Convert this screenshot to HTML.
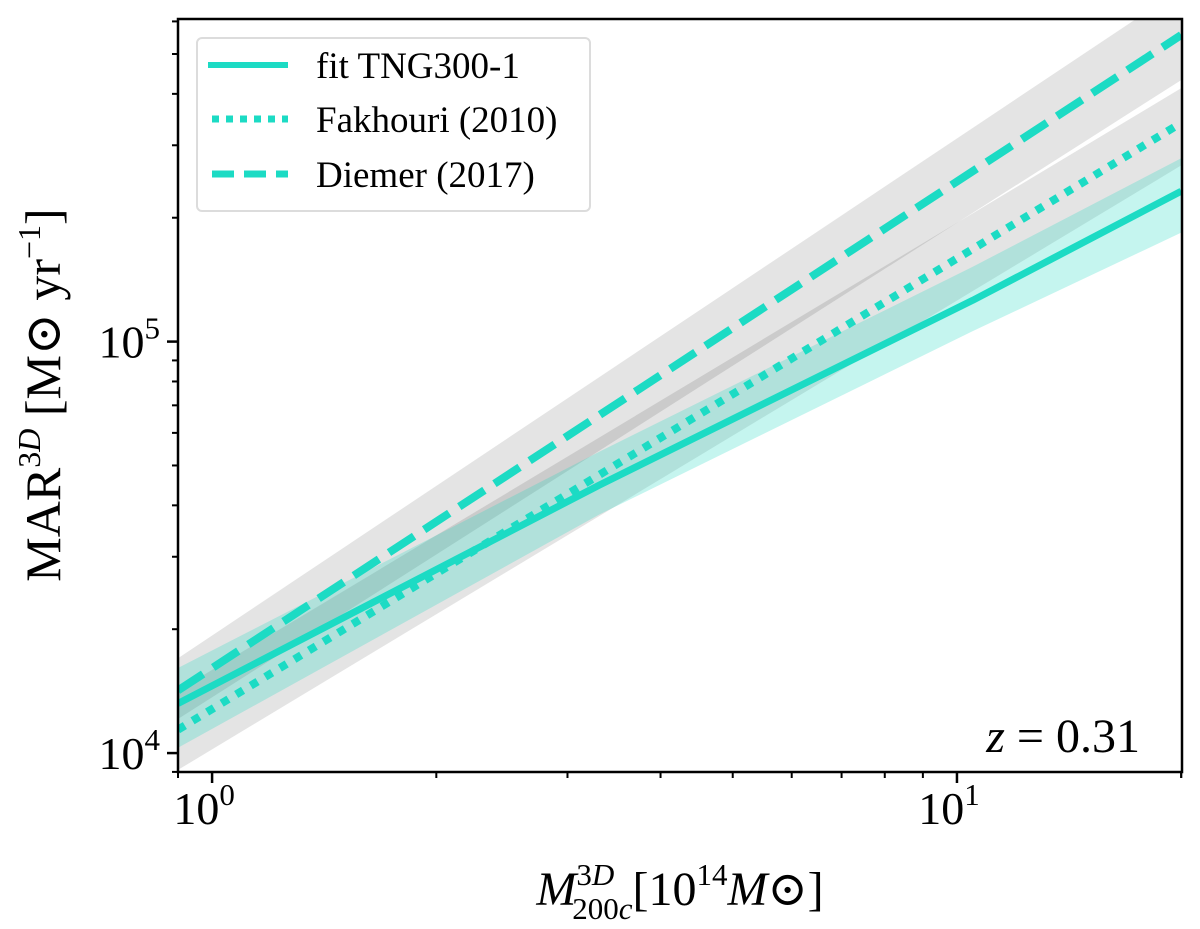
<!DOCTYPE html>
<html><head><meta charset="utf-8"><style>
html,body{margin:0;padding:0;background:#fff;}
svg text{font-family:"Liberation Serif","DejaVu Serif",serif;fill:#000;}
</style></head><body>
<svg id="chart" width="1200" height="924" xmlns="http://www.w3.org/2000/svg">
<g id="bands"></g>
<g id="lines"></g>
<g id="axes"></g>
<text x="1140" y="752" font-size="48" text-anchor="end"><tspan font-style="italic">z</tspan> = 0.31</text>
<text x="680" y="905" font-size="48" text-anchor="middle"><tspan font-style="italic">M</tspan><tspan font-size="31" dy="-20">3<tspan font-style="italic">D</tspan></tspan><tspan font-size="31" dx="-42" dy="34">200<tspan font-style="italic">c</tspan></tspan><tspan dy="-14">[10</tspan><tspan font-size="31" dy="-20">14</tspan><tspan dy="20"><tspan font-style="italic">M</tspan>⊙]</tspan></text>
<text transform="translate(60,395) rotate(-90)" font-size="50" text-anchor="middle">MAR<tspan font-size="32" dy="-20">3<tspan font-style="italic">D</tspan></tspan><tspan dy="20"> [M⊙ yr</tspan><tspan font-size="32" dy="-20">−1</tspan><tspan dy="20">]</tspan></text>
<g>
<rect x="197" y="38" width="393" height="173" rx="5" fill="#fff" fill-opacity="0.85" stroke="#dcdcdc" stroke-width="2"/>
<line x1="208" y1="65" x2="288" y2="65" stroke="#1cdbc4" stroke-width="6"/>
<text x="316" y="78" font-size="37">fit TNG300-1</text>
<line x1="212" y1="119" x2="288" y2="119" stroke="#1cdbc4" stroke-width="7" stroke-dasharray="7,7"/>
<text x="316" y="132" font-size="37">Fakhouri (2010)</text>
<line x1="212" y1="174" x2="288" y2="174" stroke="#1cdbc4" stroke-width="7" stroke-dasharray="22,10"/>
<text x="316" y="187" font-size="37">Diemer (2017)</text>
</g>
</svg>
<script>
const tngX=[0.9,3.31,10.5,20];
const tngY=[13200,44800,126000,232000];
const tngUpper=[16100,54000,152000,279000];
const tngLower=[10300,38000,106000,184000];
const fakX=[0.9,20];
const fakY=[11400,340000];
const fakUpper=[14200,413000];
const fakLower=[9100,268000];
const diemX=[0.9,20];
const diemY=[14200,556000];
const diemUpper=[17000,720000];
const diemLower=[12100,432000];
const xTickVals=[1,10];
const xTickLabels=["0","1"];
const yTickVals=[1e4,1e5];
const yTickLabels=["4","5"];

const L=178,R=1182,T=19,B=772;
const xmin=Math.log10(0.9),xmax=Math.log10(20.05);
const ymin=3.954,ymax=5.784;
const sx=v=>L+(Math.log10(v)-xmin)/(xmax-xmin)*(R-L);
const sy=v=>B-(Math.log10(v)-ymin)/(ymax-ymin)*(B-T);
const NS="http://www.w3.org/2000/svg";
function mk(tag,parent,attrs){const e=document.createElementNS(NS,tag);for(const k in attrs)e.setAttribute(k,attrs[k]);parent.appendChild(e);return e;}
function poly(pts){return 'M'+pts.map(p=>p[0]+','+p[1]).join('L');}
const svg=document.getElementById('chart');
const defs=mk('defs',svg,{});
const cp=mk('clipPath',defs,{id:'clip'});
mk('rect',cp,{x:L,y:T,width:R-L,height:B-T});
const bands=document.getElementById('bands'),lines=document.getElementById('lines'),axes=document.getElementById('axes');
bands.setAttribute('clip-path','url(#clip)');lines.setAttribute('clip-path','url(#clip)');
function band(xs,lo,hi,fill,name){
  const up=xs.map((x,i)=>[sx(x),sy(hi[i])]);
  const dn=xs.map((x,i)=>[sx(x),sy(lo[i])]).reverse();
  const d=poly(up.concat(dn))+'Z';
  const p=mk('path',bands,{d:d,fill:fill});
  
  
}
band(diemX,diemLower,diemUpper,'rgba(0,0,0,0.105)','diemer-band');
band(fakX,fakLower,fakUpper,'rgba(0,0,0,0.105)','fakhouri-band');
band(tngX,tngLower,tngUpper,'rgba(30,215,195,0.26)','tng-band');
function line(xs,ys,dash,w){
  const p=mk('path',lines,{d:poly(xs.map((x,i)=>[sx(x),sy(ys[i])])),fill:'none',stroke:'#1cdbc4','stroke-width':w,'stroke-linejoin':'round'});
  if(dash)p.setAttribute('stroke-dasharray',dash);
  return p;
}
const l1=line(tngX,tngY,null,7);


const l2=line(fakX,fakY,'8,9',8);


const l3=line(diemX,diemY,'30,12',8);


const fr=mk('rect',axes,{x:L,y:T,width:R-L,height:B-T,fill:'none',stroke:'#000','stroke-width':2.5});


for(let d=0;d<=1;d++)for(let m=1;m<10;m++){const v=m*Math.pow(10,d);if(v<0.9||v>20.05)continue;
  const X=sx(v),len=(m===1?11:6);
  const t=mk('line',axes,{x1:X,y1:B,x2:X,y2:B+len,stroke:'#000','stroke-width':m===1?2.5:2});
  
  }
const x09=mk('line',axes,{x1:sx(0.9),y1:B,x2:sx(0.9),y2:B+6,stroke:'#000','stroke-width':2});


const x20=mk('line',axes,{x1:sx(20),y1:B,x2:sx(20),y2:B+6,stroke:'#000','stroke-width':2});


xTickVals.forEach((v,i)=>{const t=mk('text',axes,{x:sx(v)-8,y:B+52,'font-size':46,'text-anchor':'middle'});
  t.innerHTML='10<tspan font-size="31" dy="-19">'+xTickLabels[i]+'</tspan>';
  
  });
for(let d=3;d<=5;d++)for(let m=1;m<10;m++){const v=m*Math.pow(10,d);const lv=Math.log10(v);if(lv<ymin-0.001||lv>ymax)continue;
  const Y=sy(v),len=(m===1?11:6);
  const t=mk('line',axes,{x1:L-len,y1:Y,x2:L,y2:Y,stroke:'#000','stroke-width':m===1?2.5:2});
  
  }
yTickVals.forEach((v,i)=>{const t=mk('text',axes,{x:L-18,y:sy(v)+16,'font-size':46,'text-anchor':'end'});
  t.innerHTML='10<tspan font-size="31" dy="-19">'+yTickLabels[i]+'</tspan>';
  
  });
</script>
</body></html>
